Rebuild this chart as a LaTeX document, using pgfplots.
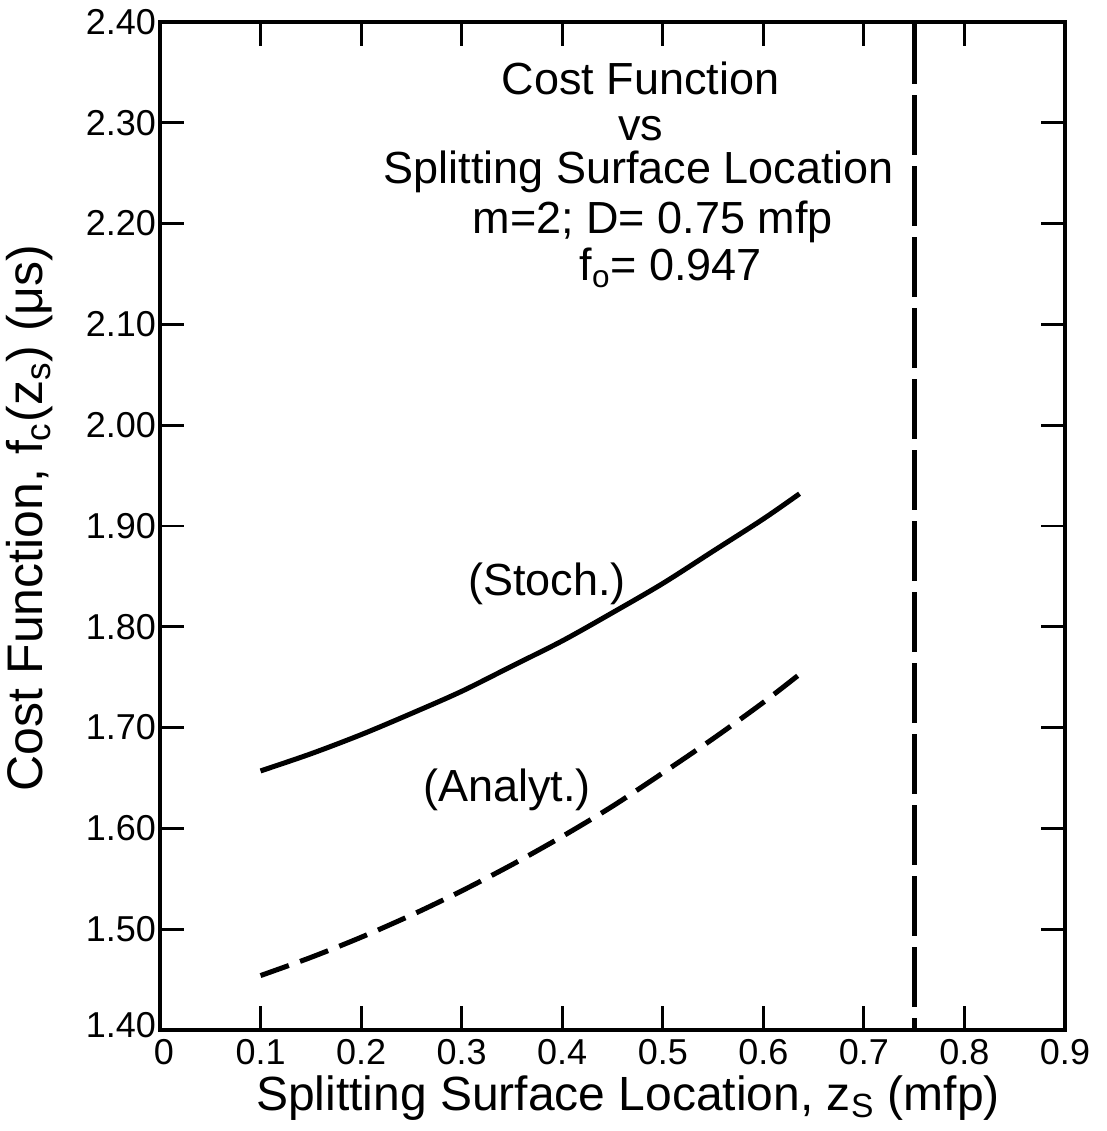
\documentclass[border=0pt]{standalone}
\usepackage{pgfplots}
\pgfplotsset{compat=1.18}
\usepackage{fontspec}
\setmainfont{Liberation Sans}

\begin{document}
\begin{tikzpicture}
\begin{axis}[
  scale only axis,
  width=452.5pt, height=504pt,
  xmin=0, xmax=0.9, ymin=1.4, ymax=2.4,
  xtick={0,0.1,0.2,0.3,0.4,0.5,0.6,0.7,0.8,0.9},
  xticklabels={\hspace*{4pt}0,0.1,0.2,0.3,0.4,0.5,0.6,0.7,0.8,0.9},
  ytick={1.4,1.5,1.6,1.7,1.8,1.9,2.0,2.1,2.2,2.3,2.4},
  yticklabels={\raisebox{5pt}{1.40},1.50,1.60,1.70,1.80,1.90,2.00,2.10,2.20,2.30,2.40},
  tick align=inside,
  major tick length=12pt,
  every tick/.style={black, line width=1.4pt},
  axis line style={line width=2pt},
  xticklabel style={font=\fontsize{18}{19}\selectfont, yshift=-1pt},
  yticklabel style={font=\fontsize{18}{19}\selectfont, xshift=1.5pt},
  xlabel={Splitting Surface Location, z\textsubscript{S} (mfp)},
  ylabel={Cost Function, f\textsubscript{c}(z\textsubscript{s}) (μs)},
  every axis x label/.style={at={(axis description cs:0.517,0)}, yshift=-34pt, anchor=center, font=\fontsize{24}{26}\selectfont},
  every axis y label/.style={at={(axis description cs:0,0.508)}, xshift=-65pt, rotate=90, anchor=center, font=\fontsize{25}{27}\selectfont},
  clip=false,
]
\addplot[line width=2.5pt, smooth] coordinates {
 (0.100,1.657) (0.150,1.674) (0.200,1.693) (0.250,1.714) (0.300,1.736)
 (0.350,1.761) (0.400,1.786) (0.450,1.814) (0.500,1.843) (0.550,1.875)
 (0.600,1.907) (0.636,1.932)};
\addplot[line width=2.5pt, smooth, dash pattern=on 15pt off 6pt] coordinates {
 (0.100,1.454) (0.150,1.472) (0.200,1.492) (0.250,1.514) (0.300,1.538)
 (0.350,1.564) (0.400,1.592) (0.450,1.622) (0.500,1.655) (0.550,1.689)
 (0.600,1.725) (0.640,1.756)};
\addplot[line width=2.5pt, dash pattern=on 30pt off 5.5pt] coordinates {(0.75,2.398) (0.75,1.40)};

\begin{scope}[every node/.style={font=\fontsize{22.5}{24}\selectfont, inner sep=0pt}]
\node at (axis cs:0.478,2.344) {Cost Function};
\node at (axis cs:0.478,2.294) {vs};
\node at (axis cs:0.476,2.251) {Splitting Surface Location};
\node at (axis cs:0.490,2.202) {m=2; D= 0.75 mfp};
\node at (axis cs:0.508,2.156) {f\textsubscript{o}= 0.947};
\node at (axis cs:0.385,1.843) {(Stoch.)};
\node at (axis cs:0.345,1.638) {(Analyt.)};
\end{scope}
\end{axis}
\path ([xshift=-80pt,yshift=-50.5pt]current axis.south west) rectangle ([xshift=21pt,yshift=11pt]current axis.north east);
\end{tikzpicture}
\end{document}
